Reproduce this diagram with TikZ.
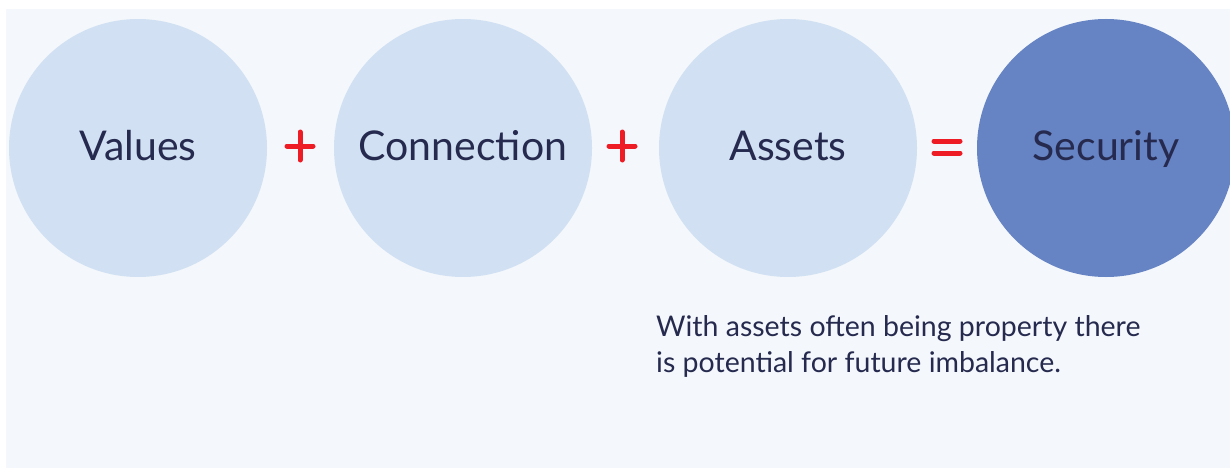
\documentclass[tikz,border=0pt]{standalone}
\usepackage{fontspec}
\setmainfont{Lato}
\definecolor{bg}{HTML}{F4F7FB}
\definecolor{lightc}{HTML}{D1E1F3}
\definecolor{darkc}{HTML}{6683C4}
\definecolor{ink}{HTML}{252A4E}
\definecolor{opred}{HTML}{EE1C25}
\begin{document}
\begin{tikzpicture}[x=1pt,y=-1pt,
  bubble/.style={circle,minimum size=258pt,inner sep=0pt,fill=lightc,text=ink,
    font=\fontsize{41}{45}\selectfont,text height=32pt,text depth=7pt},
  opline/.style={draw=opred,line width=5pt,line cap=round}]
\useasboundingbox[fill=white] (0,0) rectangle (1230,468);
\fill[bg] (6,9) rectangle (1230,468);
\node[bubble] (values) at (138,148) {Values};
\node[bubble] (connection) at (463,148) {Connection};
\node[bubble] (assets) at (788,148) {Assets};
\node[bubble,fill=darkc] (security) at (1106,148) {Security};
\coordinate (p1) at (300,146);
\coordinate (p2) at (622,146);
\coordinate (eq) at (947,147);
\draw[opline] ([xshift=-13pt]p1) -- ([xshift=13pt]p1);
\draw[opline] ([yshift=-14pt]p1) -- ([yshift=14pt]p1);
\draw[opline] ([xshift=-13pt]p2) -- ([xshift=13pt]p2);
\draw[opline] ([yshift=-14pt]p2) -- ([yshift=14pt]p2);
\draw[opline] ([xshift=-13pt,yshift=-6pt]eq) -- ([xshift=13pt,yshift=-6pt]eq);
\draw[opline] ([xshift=-13pt,yshift=6pt]eq) -- ([xshift=13pt,yshift=6pt]eq);
\node[anchor=north west,align=left,text=ink,inner sep=0pt,font=\fontsize{28.5}{36.7}\selectfont] (note) at (656,315) {With assets often being property there\\is potential for future imbalance.};
\end{tikzpicture}
\end{document}
